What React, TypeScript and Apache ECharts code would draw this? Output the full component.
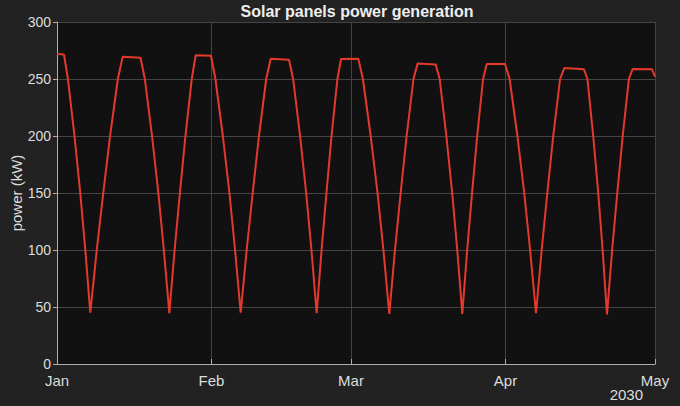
import React, { useEffect, useRef } from "react";
import * as echarts from "echarts";

const monthNames = ["Jan", "Feb", "Mar", "Apr", "May", "Jun", "Jul", "Aug", "Sep", "Oct", "Nov", "Dec"];
const yTicks = [0, 50, 100, 150, 200, 250, 300];
const yearLabel = "2030";

// days since 2030-01-01
const dayOffsets = [
  0, 1.4, 2.19, 3.51, 4.67, 5.68, 6.68, 7.98, 9.28, 10.65, 12.21, 13.18,
  16.76, 17.63, 19.07, 20.34, 21.44, 22.54, 23.6, 24.66, 25.77, 27.04, 27.83,
  30.9, 31.79, 33.28, 34.6, 35.73, 36.86, 38.06, 39.27, 40.53, 41.98, 42.88,
  46.56, 47.39, 48.78, 50.0, 51.06, 52.11, 53.09, 54.07, 55.09, 56.27, 57.0,
  60.46, 61.39, 62.95, 64.32, 65.5, 66.68, 67.82, 68.96, 70.16, 71.53, 72.38,
  75.99, 76.79, 78.13, 79.3, 80.32, 81.33, 82.31, 83.29, 84.32, 85.5, 86.23,
  89.9, 90.83, 92.39, 93.76, 94.94, 96.12, 97.26, 98.39, 99.58, 100.95, 101.8,
  105.75, 106.44, 107.6, 108.61, 109.49, 110.37, 111.4, 112.43, 113.52, 114.76, 115.53,
  119.4, 120.0,
];

const power = [
  272, 271.5, 250, 200, 150, 100, 45, 100, 150, 200, 250, 269.6,
  268.7, 250, 200, 150, 100, 44.7, 100, 150, 200, 250, 270.8,
  270.4, 250, 200, 150, 100, 45, 100, 150, 200, 250, 267.8,
  266.9, 250, 200, 150, 100, 44.5, 100, 150, 200, 250, 267.5,
  267.8, 250, 200, 150, 100, 44, 100, 150, 200, 250, 263.7,
  262.7, 250, 200, 150, 100, 44, 100, 150, 200, 250, 263.2,
  263.2, 250, 200, 150, 100, 44.5, 100, 150, 200, 250, 259.6,
  258.5, 250, 200, 150, 100, 43.5, 100, 150, 200, 250, 258.8,
  258.5, 252,
];

const FONT = "Liberation Sans, Arial, Helvetica, sans-serif";

export default function App() {
  const ref = useRef<HTMLDivElement>(null);

  useEffect(() => {
    document.body.style.margin = "0";
    document.body.style.background = "#222222";
    if (!ref.current) return;
    const chart = echarts.init(ref.current, null, { renderer: "svg" });
    const base = new Date(2030, 0, 1).getTime();
    const end = new Date(2030, 4, 1).getTime();
    const data = dayOffsets.map((d, i) => [base + d * 86400000, power[i]]);

    chart.setOption({
      animation: false,
      backgroundColor: "#222222",
      textStyle: { fontFamily: FONT },
      title: {
        text: "Solar panels power generation",
        left: 352,
        top: -2,
        textAlign: "center",
        textStyle: { color: "#eeeeee", fontSize: 16, fontWeight: "bold", fontFamily: FONT },
      },
      grid: {
        left: 57,
        right: 25,
        top: 22,
        bottom: 42,
        show: true,
        backgroundColor: "#111111",
        borderWidth: 0,
        containLabel: false,
        outerBoundsMode: "none",
      },
      xAxis: {
        type: "time",
        min: base,
        max: end,
        minInterval: 28 * 86400000,
        maxInterval: 31 * 86400000,
        axisLine: { show: true, lineStyle: { color: "#b0b0b0", width: 1 } },
        axisTick: { show: true, inside: true, length: 5, lineStyle: { color: "#b0b0b0" } },
        splitLine: { show: true, lineStyle: { color: "#444444", width: 1 } },
        axisLabel: {
          color: "#dddddd",
          fontSize: 15,
          fontFamily: FONT,
          margin: 9,
          showMinLabel: true,
          showMaxLabel: true,
          formatter: (v: number) => monthNames[new Date(v).getMonth()],
        },
      },
      yAxis: {
        type: "value",
        min: yTicks[0],
        max: yTicks[yTicks.length - 1],
        interval: 50,
        name: "power (kW)",
        nameLocation: "middle",
        nameGap: 33,
        nameRotate: 90,
        nameMoveOverlap: false,
        nameTextStyle: { color: "#dddddd", fontSize: 15, fontFamily: FONT },
        axisLine: { show: true, lineStyle: { color: "#b0b0b0", width: 1 } },
        axisTick: { show: true, inside: false, length: 4, lineStyle: { color: "#b0b0b0" } },
        splitLine: { show: true, lineStyle: { color: "#444444", width: 1 } },
        axisLabel: { color: "#dddddd", fontSize: 14, fontFamily: FONT, margin: 6 },
      },
      graphic: [
        {
          type: "text",
          right: 37,
          top: 387,
          style: { text: yearLabel, fill: "#dddddd", fontSize: 15, fontFamily: FONT },
        },
      ],
      series: [
        {
          type: "line",
          data,
          showSymbol: false,
          lineStyle: { color: "#e5392b", width: 2 },
          itemStyle: { color: "#e5392b" },
        },
      ],
    });
    return () => chart.dispose();
  }, []);

  return <div ref={ref} style={{ width: 680, height: 406 }} />;
}
